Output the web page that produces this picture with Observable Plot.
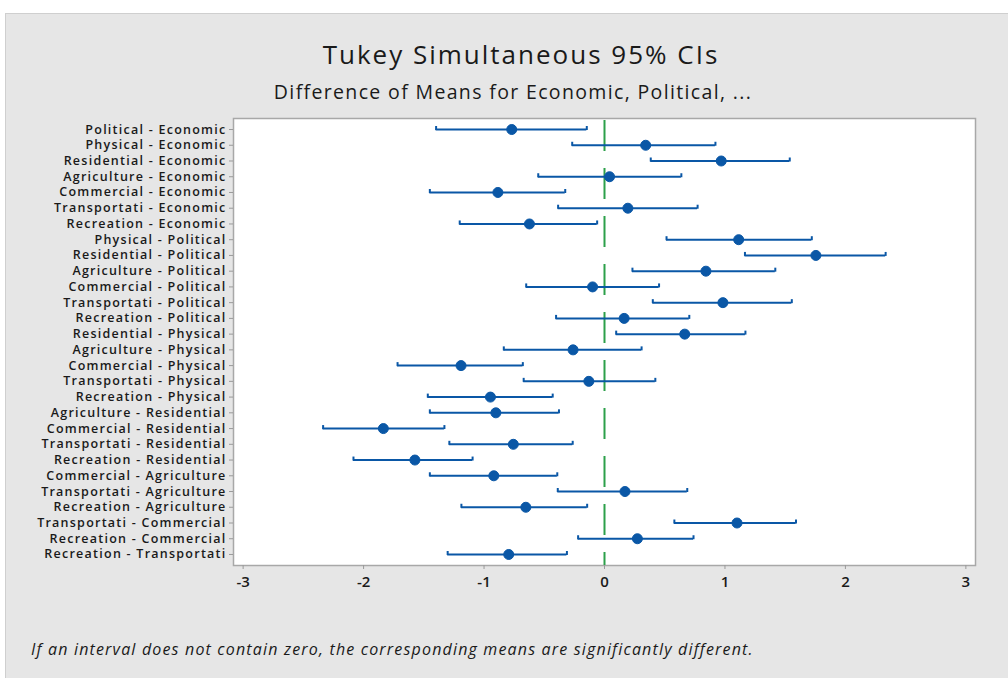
<!DOCTYPE html>
<html>
<head>
<meta charset="utf-8">
<script src="https://cdn.jsdelivr.net/npm/d3@7"></script>
<script src="https://cdn.jsdelivr.net/npm/@observablehq/plot@0.6"></script>
<style>
  html, body { margin: 0; padding: 0; background: #ffffff; width: 1008px; height: 678px; overflow: hidden; }
  #panel { position: absolute; left: 5px; top: 13px; width: 1002px; height: 664px; background: #e6e6e6;
           border-top: 1px solid #cfcfcf; border-left: 1px solid #cfcfcf; }
  .title { position: absolute; top: 22px; left: 515px; transform: translateX(-50%); white-space: nowrap;
           font-family: "Open Sans", sans-serif; font-size: 26px; letter-spacing: 2px; color: #1a1a1a; }
  .subtitle { position: absolute; top: 64px; left: 507px; transform: translateX(-50%); white-space: nowrap;
           font-family: "Open Sans", sans-serif; font-size: 19.5px; letter-spacing: 1.35px; color: #1a1a1a; }
  #chart { position: absolute; left: 0; top: 91px; }
  #chart g[aria-label="y-axis tick label"] text { letter-spacing: 1.25px; }
  .caption { position: absolute; top: 624px; left: 25px; white-space: nowrap;
           font-family: "Open Sans", sans-serif; font-style: italic; font-size: 16px; color: #1a1a1a; letter-spacing: 1.17px; }
</style>
</head>
<body>
<div id="panel">
  <div class="title">Tukey Simultaneous 95% CIs</div>
  <div class="subtitle">Difference of Means for Economic, Political, ...</div>
  <div id="chart"></div>
  <div class="caption">If an interval does not contain zero, the corresponding means are significantly different.</div>
</div>
<script>
const comparisons = [
  "Political - Economic", "Physical - Economic", "Residential - Economic", "Agriculture - Economic",
  "Commercial - Economic", "Transportati - Economic", "Recreation - Economic",
  "Physical - Political", "Residential - Political", "Agriculture - Political", "Commercial - Political",
  "Transportati - Political", "Recreation - Political",
  "Residential - Physical", "Agriculture - Physical", "Commercial - Physical", "Transportati - Physical",
  "Recreation - Physical",
  "Agriculture - Residential", "Commercial - Residential", "Transportati - Residential", "Recreation - Residential",
  "Commercial - Agriculture", "Transportati - Agriculture", "Recreation - Agriculture",
  "Transportati - Commercial", "Recreation - Commercial",
  "Recreation - Transportati"
];
const lower = [-1.398, -0.268, 0.384, -0.55, -1.45, -0.385, -1.202,
  0.515, 1.166, 0.232, -0.65, 0.401, -0.402,
  0.097, -0.836, -1.718, -0.671, -1.467,
  -1.45, -2.336, -1.288, -2.084,
  -1.45, -0.388, -1.188,
  0.58, -0.219,
  -1.302];
const center = [-0.77, 0.342, 0.969, 0.042, -0.885, 0.194, -0.623,
  1.114, 1.755, 0.842, -0.099, 0.983, 0.163,
  0.666, -0.261, -1.191, -0.13, -0.947,
  -0.902, -1.836, -0.757, -1.574,
  -0.919, 0.17, -0.653,
  1.1, 0.273,
  -0.795];
const upper = [-0.147, 0.921, 1.538, 0.638, -0.326, 0.773, -0.061,
  1.721, 2.334, 1.418, 0.453, 1.555, 0.704,
  1.17, 0.308, -0.678, 0.422, -0.43,
  -0.378, -1.329, -0.264, -1.095,
  -0.392, 0.687, -0.144,
  1.59, 0.739,
  -0.312];
const xTicks = [-3, -2, -1, 0, 1, 2, 3];
const zeroLine = [0];

const data = comparisons.map((c, i) => ({c, lo: lower[i], mid: center[i], hi: upper[i]}));

const blue = "#0a57a6";
const mT = 13, frameH = 447, n = comparisons.length, pOuter = 0.2;
const bw = frameH / (n + 2 * pOuter);
const fmt = d => d < 0 ? "-" + Math.abs(d) : String(d);

const chart = Plot.plot({
  width: 1002,
  height: 495,
  marginTop: mT,
  marginBottom: 495 - mT - frameH,
  marginLeft: 227,
  marginRight: 33,
  style: {background: "transparent", color: "#1a1a1a"},
  x: {domain: [-3.08, 3.08], round: false, label: null},
  y: {type: "band", domain: comparisons, paddingInner: 0, paddingOuter: pOuter, round: false, label: null},
  marks: [
    Plot.frame({fill: "white", stroke: "#a8a8a8", strokeWidth: 1.5}),
    Plot.ruleX(zeroLine, {stroke: "#2ca04a", strokeWidth: 2, strokeDasharray: "31,17", insetTop: 2}),
    Plot.ruleY(data, {y: "c", x1: "lo", x2: "hi", stroke: blue, strokeWidth: 2}),
    Plot.tickX(data, {x: "lo", y: "c", stroke: blue, strokeWidth: 2, insetTop: bw / 2 - 3, insetBottom: bw / 2 - 1}),
    Plot.tickX(data, {x: "hi", y: "c", stroke: blue, strokeWidth: 2, insetTop: bw / 2 - 3, insetBottom: bw / 2 - 1}),
    Plot.dot(data, {x: "mid", y: "c", r: 5, fill: blue, stroke: blue, strokeWidth: 1}),
    Plot.axisY({tickSize: 4, tickPadding: 3, stroke: "#9a9a9a", fontSize: 12.5, fontFamily: "Open Sans", fontWeight: 600, fill: "#1a1a1a"}),
    Plot.axisX({ticks: xTicks, tickFormat: fmt, tickSize: 4, tickPadding: 7, stroke: "#9a9a9a", fontSize: 15, fontFamily: "Open Sans", fontWeight: 600, fill: "#1a1a1a"})
  ]
});
document.getElementById("chart").appendChild(chart);
</script>
</body>
</html>
